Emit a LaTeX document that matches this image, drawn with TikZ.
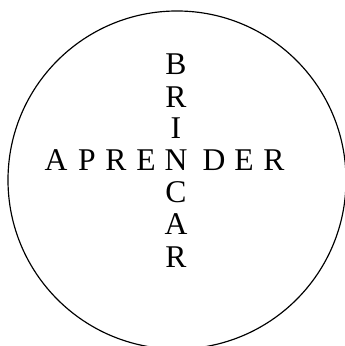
\documentclass[tikz,border=0pt]{standalone}
\usepackage{tikz}
\usepackage{fontspec}
\setmainfont{Liberation Serif}

\tikzset{letra/.style={font=\fontsize{27}{27}\selectfont, anchor=base, inner sep=0pt}}

\begin{document}
\begin{tikzpicture}[x=0.03cm,y=0.03cm]
  \useasboundingbox (0,0) rectangle (344,346);
  % outer circle (runs off the right and bottom edges)
  \draw[line width=1pt] (177,166) circle[radius=5.07cm];
  % horizontal word, baseline at y=175
  \foreach \x/\lab [count=\i] in {56/A, 87/P, 116/R, 146/E, 176/N, 214/D, 244/E, 274/R}{
    \node[letra] (h\i) at (\x,175) {\lab};
  }
  % vertical word, shares the N of the horizontal one
  \foreach \y/\lab [count=\i] in {271/B, 238/R, 207/I, 143/C, 111/A, 78/R}{
    \node[letra] (v\i) at (176,\y) {\lab};
  }
\end{tikzpicture}
\end{document}
